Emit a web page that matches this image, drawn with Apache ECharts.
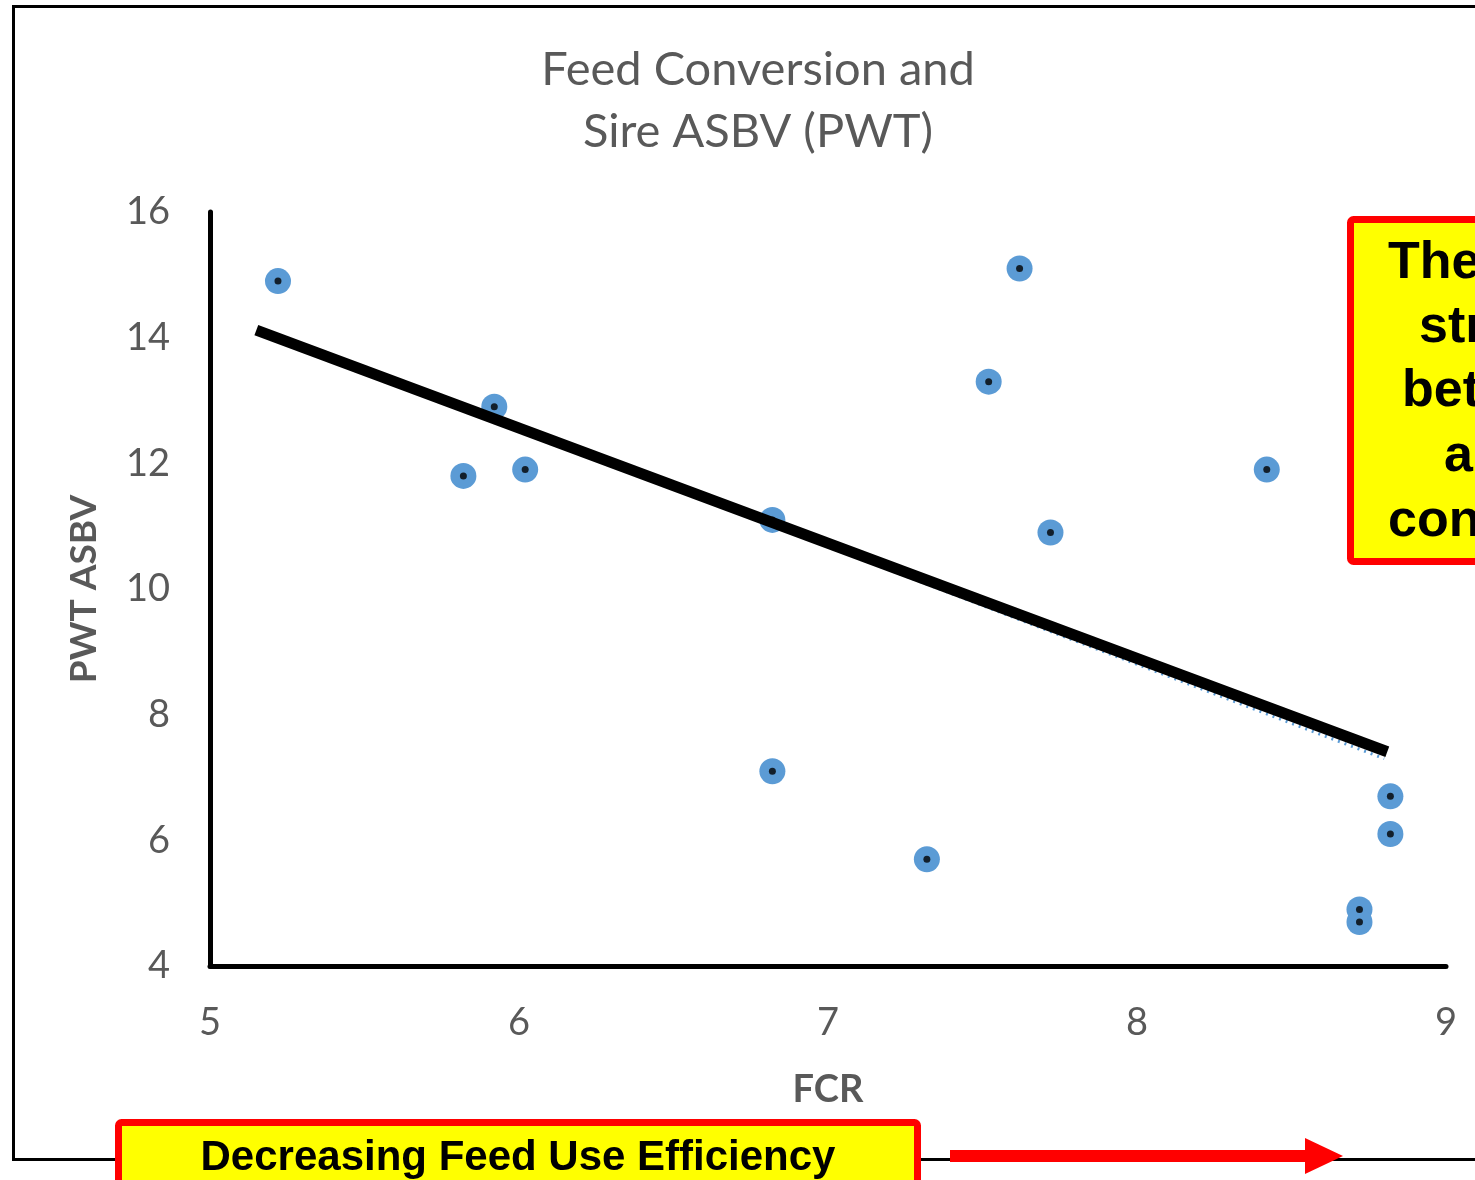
<!DOCTYPE html>
<html>
<head>
<meta charset="utf-8">
<style>html,body{margin:0;padding:0;background:#fff;}#c{width:1475px;height:1180px;}</style>
<script src="https://cdn.jsdelivr.net/npm/echarts@6/dist/echarts.min.js"></script>
</head>
<body>
<div id="c"></div>
<script>
// Data
const fcr = [5.22, 7.62, 7.52, 5.92, 5.82, 6.02, 8.42, 6.82, 7.72, 6.82, 7.32, 8.82, 8.82, 8.72, 8.72];
const pwt = [14.9, 15.1, 13.3, 12.9, 11.8, 11.9, 11.9, 11.1, 10.9, 7.1, 5.7, 6.7, 6.1, 4.9, 4.7];
const trendX = [5.2, 8.8];
const trendY = [14.05, 7.3];
const drawnLineX = [5.15, 8.81];
const drawnLineY = [14.12, 7.41];
const xTicks = [5, 6, 7, 8, 9];
const yTicks = [4, 6, 8, 10, 12, 14, 16];
const titleLines = ['Feed Conversion and', 'Sire ASBV (PWT)'];
const noteLines = ['There is a', 'strong link', 'between FCR', 'and', 'conformation'];
const bottomNote = 'Decreasing Feed Use Efficiency';

const points = fcr.map((x, i) => [x, pwt[i]]);
const trend = trendX.map((x, i) => [x, trendY[i]]);
const drawn = drawnLineX.map((x, i) => [x, drawnLineY[i]]);

const gray = '#595959';
const chart = echarts.init(document.getElementById('c'), null, {renderer: 'canvas'});

const noteX = [1388, 1419, 1402, 1444, 1388];
const noteY = [264, 328, 392, 457, 522];

chart.setOption({
  animation: false,
  backgroundColor: '#fff',
  title: {
    text: titleLines.join('\n'),
    left: 753, top: 34, textAlign: 'center',
    textStyle: {fontFamily: 'Lato', fontSize: 47, fontWeight: 'normal', color: gray, lineHeight: 62}
  },
  grid: {left: 210, right: 29, top: 212, bottom: 214, containLabel: false},
  xAxis: {
    type: 'value', min: xTicks[0], max: xTicks[xTicks.length - 1], interval: 1,
    name: 'FCR', nameLocation: 'middle', nameGap: 105,
    nameTextStyle: {fontFamily: 'Lato', fontWeight: 'bold', fontSize: 38, color: gray},
    axisLine: {show: true, lineStyle: {color: '#000', width: 5}},
    axisTick: {show: false}, splitLine: {show: false},
    axisLabel: {fontFamily: 'Lato', fontSize: 38, color: gray, margin: 38}
  },
  yAxis: {
    type: 'value', min: yTicks[0], max: yTicks[yTicks.length - 1], interval: 2,
    name: 'PWT ASBV', nameLocation: 'middle', nameGap: 107, nameRotate: 90,
    nameTextStyle: {fontFamily: 'Lato', fontWeight: 'bold', fontSize: 37, color: gray},
    axisLine: {show: true, lineStyle: {color: '#000', width: 5}},
    axisTick: {show: false}, splitLine: {show: false},
    axisLabel: {fontFamily: 'Lato', fontSize: 38, color: gray, margin: 40}
  },
  series: [
    {type: 'scatter', data: points, symbol: 'circle', symbolSize: 26,
     itemStyle: {color: '#5B9BD5', opacity: 1}, z: 2},
    {type: 'scatter', data: points, symbol: 'circle', symbolSize: 7,
     itemStyle: {color: '#000'}, z: 3},
    {type: 'line', data: trend, symbol: 'none',
     lineStyle: {color: '#5B9BD5', width: 3, type: [2, 5]}, z: 4},
    {type: 'line', data: drawn, symbol: 'none',
     lineStyle: {color: '#000', width: 11, cap: 'butt'}, z: 5}
  ],
  graphic: [
    {type: 'rect', z: 100, silent: true,
     shape: {x: 13.5, y: 6.5, width: 1600, height: 1153},
     style: {fill: 'none', stroke: '#000', lineWidth: 3}},
    {type: 'rect', z: 101, silent: true,
     shape: {x: 1350.5, y: 219.5, width: 400, height: 342, r: 3},
     style: {fill: '#FFFF00', stroke: '#FF0000', lineWidth: 7}},
    ...noteLines.map((t, i) => ({
      type: 'text', z: 102, silent: true,
      style: {text: t, x: noteX[i], y: noteY[i], textAlign: 'left', textVerticalAlign: 'middle',
              font: 'bold 52px "Liberation Sans", Arial, sans-serif', fill: '#000'}
    })),
    {type: 'rect', z: 101, silent: true,
     shape: {x: 118.5, y: 1122.5, width: 799, height: 120, r: 3},
     style: {fill: '#FFFF00', stroke: '#FF0000', lineWidth: 7}},
    {type: 'text', z: 102, silent: true,
     style: {text: bottomNote, x: 518, y: 1158, textAlign: 'center', textVerticalAlign: 'middle',
             font: 'bold 42px "Liberation Sans Narrow", "Liberation Sans", Arial, sans-serif', fill: '#000'}},
    {type: 'rect', z: 101, silent: true,
     shape: {x: 950, y: 1150, width: 360, height: 12},
     style: {fill: '#FF0000'}},
    {type: 'polygon', z: 101, silent: true,
     shape: {points: [[1305, 1138], [1343, 1156], [1305, 1174]]},
     style: {fill: '#FF0000'}}
  ]
});
</script>
</body>
</html>
